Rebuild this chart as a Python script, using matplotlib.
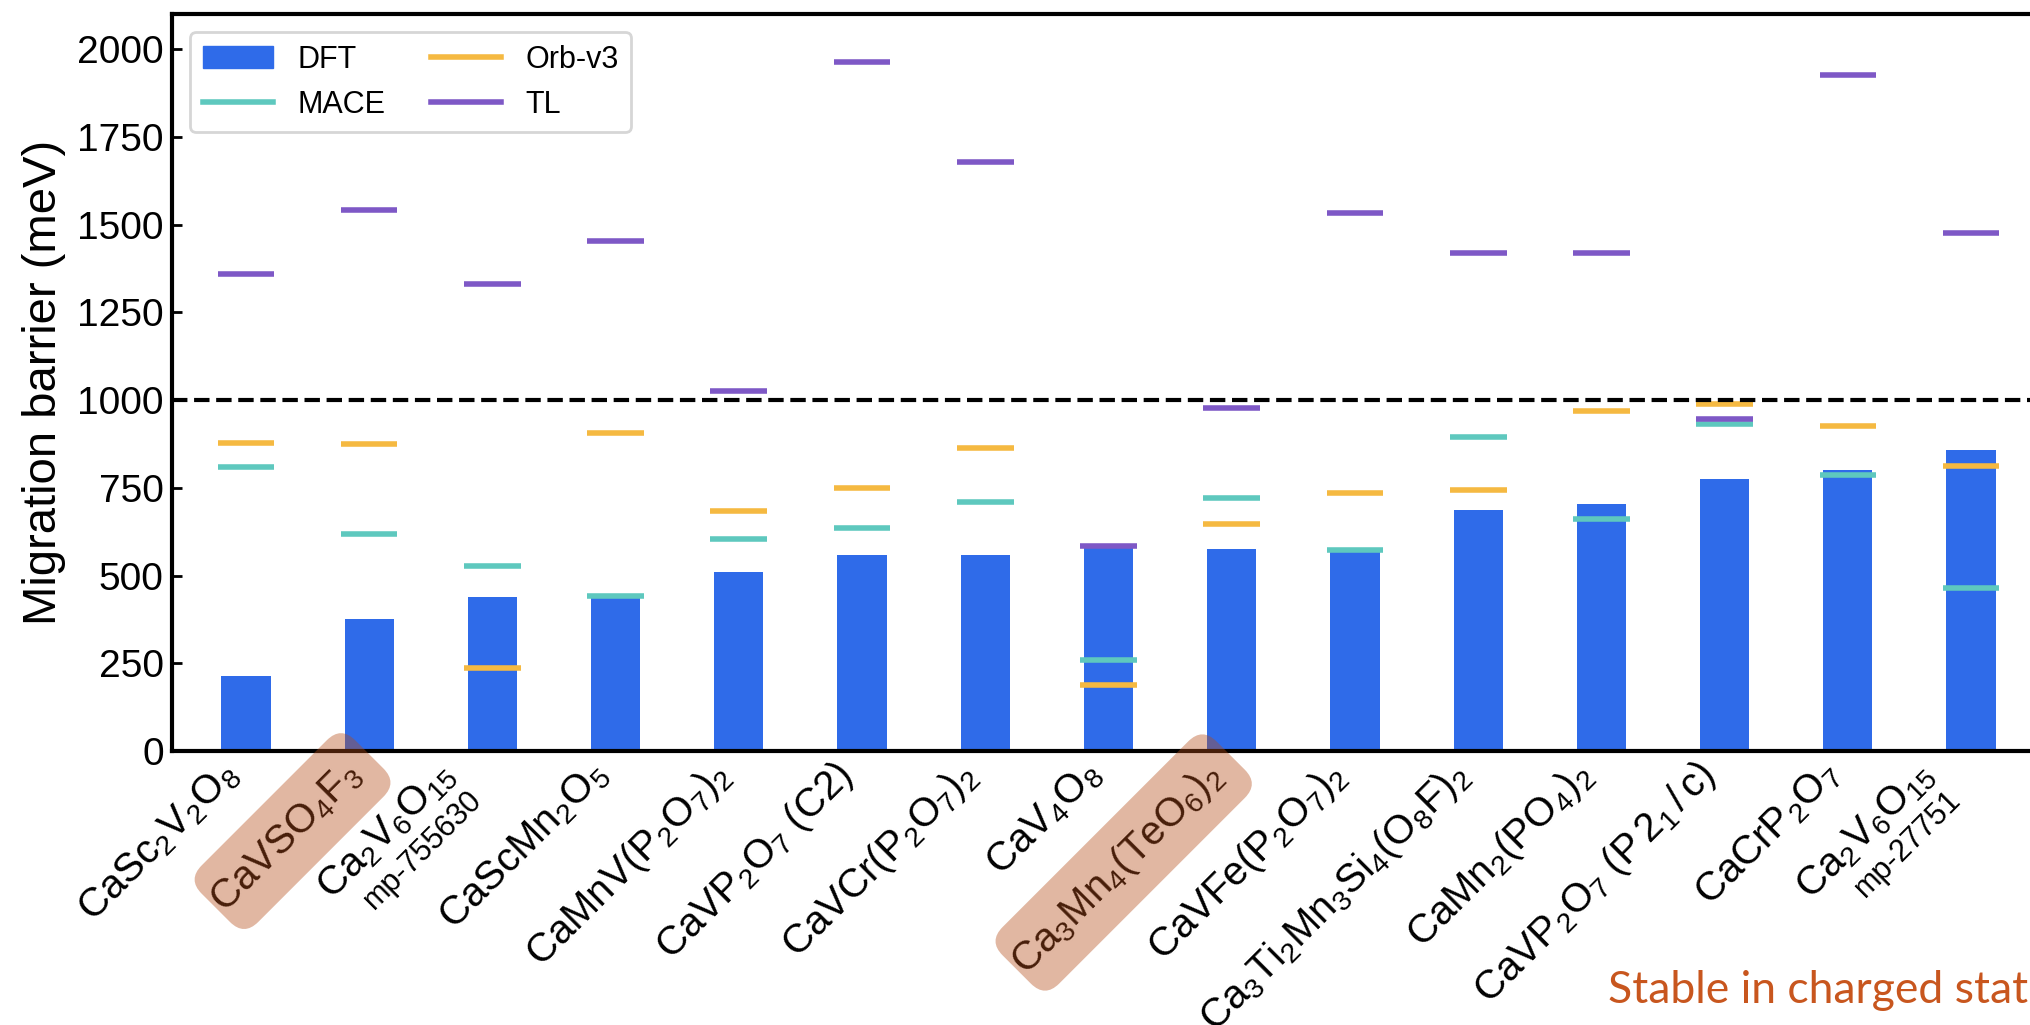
import matplotlib
matplotlib.use("Agg")
import matplotlib.pyplot as plt
from matplotlib.patches import Patch, FancyBboxPatch
from matplotlib.lines import Line2D
from matplotlib.transforms import ScaledTranslation, blended_transform_factory, Affine2D

plt.rcParams['font.family'] = ['Liberation Sans', 'DejaVu Sans']
plt.rcParams['mathtext.fontset'] = 'custom'
plt.rcParams['mathtext.rm'] = 'Liberation Sans'
plt.rcParams['mathtext.it'] = 'Liberation Sans'
plt.rcParams['mathtext.bf'] = 'Liberation Sans:bold'

materials = [r'CaSc$_2$V$_2$O$_8$', r'CaVSO$_4$F$_3$', r'Ca$_2$V$_6$O$_{15}$',
             r'CaScMn$_2$O$_5$', r'CaMnV(P$_2$O$_7$)$_2$', r'CaVP$_2$O$_7$ ($C2$)',
             r'CaVCr(P$_2$O$_7$)$_2$', r'CaV$_4$O$_8$', r'Ca$_3$Mn$_4$(TeO$_6$)$_2$',
             r'CaVFe(P$_2$O$_7$)$_2$', r'Ca$_3$Ti$_2$Mn$_3$Si$_4$(O$_8$F)$_2$',
             r'CaMn$_2$(PO$_4$)$_2$', r'CaVP$_2$O$_7$ ($P\,2_1\,/\,c$)', r'CaCrP$_2$O$_7$',
             r'Ca$_2$V$_6$O$_{15}$']
mp_ids = {2: 'mp-755630', 14: 'mp-27751'}
highlighted = [1, 8]

dft = [214, 377, 440, 444, 510, 558, 558, 581, 577, 575, 686, 703, 774, 800, 857]
mace = [809, 617, 528, 441, 603, 634, 710, 260, 721, 574, 895, 660, 931, 786, 464]
orb = [877, 874, 237, 905, 684, 749, 864, 189, 646, 735, 743, 969, 989, 925, 812]
tl = [1360, 1541, 1331, 1453, 1027, 1962, 1677, 585, 978, 1532, 1418, 1418, 946, 1926, 1475]
yticks = [0, 250, 500, 750, 1000, 1250, 1500, 1750, 2000]

c_dft = '#2f6be9'
c_mace = '#5ec8be'
c_orb = '#f5b941'
c_tl = '#7e58c6'

LABEL_FS = 29

fig = plt.figure(figsize=(20.3, 10.25), dpi=100)
W, H = 2030, 1025
ax = fig.add_axes([172 / W, (H - 751) / H, (2045 - 172) / W, (751 - 14) / H])

x = list(range(len(materials)))
ax.bar(x, dft, width=0.4, color=c_dft, zorder=2)
hw = 0.23
for vals, c in [(mace, c_mace), (orb, c_orb), (tl, c_tl)]:
    ax.hlines(vals, [i - hw for i in x], [i + hw for i in x], colors=c, lw=4, zorder=3)

ax.axhline(1000, color='k', lw=3, ls='--', zorder=4)

ax.set_xlim(-0.6, 14.6)
ax.set_ylim(0, 2100)
ax.set_yticks(yticks)
ax.set_xticks(x)
ax.set_xticklabels([''] * len(x))
ax.tick_params(axis='both', direction='in', length=7.5, width=2, labelsize=28, pad=6)
for s in ax.spines.values():
    s.set_linewidth(3)
ax.set_ylabel('Migration barrier (meV)', fontsize=34, labelpad=8)

bt = blended_transform_factory(ax.transData, ax.transAxes)
hl_texts = []
for i, lab in enumerate(materials):
    dx, dy = 0, -2.5
    if i in mp_ids:
        dx = -21
    tr = bt + ScaledTranslation(dx / 72, dy / 72, fig.dpi_scale_trans)
    t = ax.text(i, 0, lab, transform=tr, rotation=45, ha='right', va='top',
                fontsize=LABEL_FS, color='black', zorder=10, clip_on=False)
    if i in highlighted:
        hl_texts.append(t)
    if i in mp_ids:
        tr2 = bt + ScaledTranslation(-3 / 72, -24 / 72, fig.dpi_scale_trans)
        ax.text(i, 0, mp_ids[i], transform=tr2, rotation=45, ha='right',
                va='top', fontsize=22, color='black', clip_on=False)

handles = [Patch(color=c_dft, label='DFT'),
           Line2D([], [], color=c_mace, lw=4, label='MACE'),
           Line2D([], [], color=c_orb, lw=4, label='Orb-v3'),
           Line2D([], [], color=c_tl, lw=4, label='TL')]
leg = ax.legend(handles=handles, ncol=2, loc='upper left', fontsize=22, frameon=True,
                handlelength=2.3, columnspacing=1.5, borderaxespad=0.6)
leg.get_frame().set_edgecolor('#cccccc')
leg.get_frame().set_linewidth(2)

fig.text(1608 / W, (H - 1003) / H, 'Stable in charged state', fontsize=32, color='#c8561e',
         family=['Lato', 'DejaVu Sans'], ha='left', va='baseline')

# translucent rounded highlight boxes laid over the highlighted labels
fig.canvas.draw()
renderer = fig.canvas.get_renderer()
for t in hl_texts:
    bb = t.get_window_extent(renderer)
    cx, cy = (bb.x0 + bb.x1) / 2 + 6, (bb.y0 + bb.y1) / 2 + 6
    tmp = fig.text(0, 0, t.get_text(), fontsize=LABEL_FS)
    L = tmp.get_window_extent(renderer).width
    tmp.remove()
    Lb, Wb = L + 22, 80
    box = FancyBboxPatch((-Lb / 2, -Wb / 2), Lb, Wb,
                         boxstyle='round,pad=0,rounding_size=20',
                         fc='#b44c18', ec='none', alpha=0.4, zorder=20,
                         transform=Affine2D().rotate_deg(45).translate(cx, cy))
    fig.add_artist(box)

fig.savefig('out.png', dpi=100)
